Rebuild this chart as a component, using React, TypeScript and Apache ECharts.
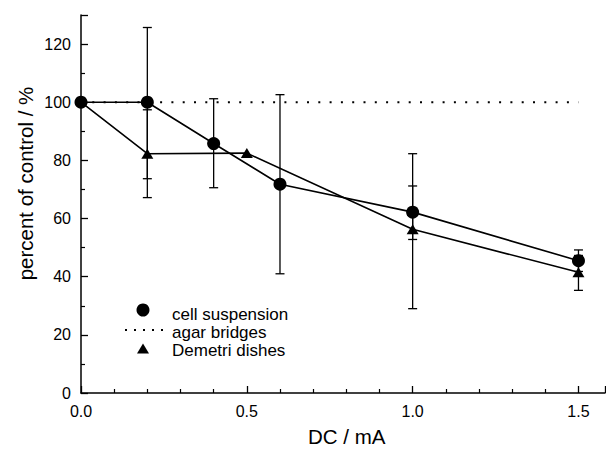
import React, { useEffect, useRef } from "react";
import * as echarts from "echarts";

// ---- data ----
const xTicksMajor = [0, 0.5, 1.0, 1.5];

const xCell = [0, 0.2, 0.4, 0.6, 1.0, 1.5];
const yCell = [100, 100, 85.8, 71.8, 62.2, 45.5];
const cellErrLow: (number | null)[] = [null, 73.7, 70.6, 41.0, 52.8, 41.8];
const cellErrHigh: (number | null)[] = [null, 125.7, 101.2, 102.6, 71.2, 49.2];

const xDish = [0, 0.2, 0.5, 1.0, 1.5];
const yDish = [100, 82.3, 82.5, 56.3, 41.5];
const dishErrLow: (number | null)[] = [null, 67.2, null, 29.0, 35.3];
const dishErrHigh: (number | null)[] = [null, 97.4, null, 82.3, 47.3];

const xAgar = [0, 1.5];
const yAgar = [100, 100];

const legendNames = ["cell suspension", "agar bridges", "Demetri dishes"];
const xAxisName = "DC / mA";
const yAxisName = "percent of control / %";

const FONT = "'Liberation Sans', Arial, Helvetica, sans-serif";

function errData(xs: number[], lo: (number | null)[], hi: (number | null)[]) {
  const out: number[][] = [];
  xs.forEach((x, i) => {
    if (lo[i] != null && hi[i] != null) out.push([x, lo[i] as number, hi[i] as number]);
  });
  return out;
}

function renderErr(params: any, api: any) {
  const x = api.value(0);
  const lo = api.coord([x, api.value(1)]);
  const hi = api.coord([x, api.value(2)]);
  const w = 4.5;
  const style = { stroke: "#000", lineWidth: 1.3 };
  return {
    type: "group",
    children: [
      { type: "line", shape: { x1: lo[0], y1: lo[1], x2: hi[0], y2: hi[1] }, style },
      { type: "line", shape: { x1: lo[0] - w, y1: lo[1], x2: lo[0] + w, y2: lo[1] }, style },
      { type: "line", shape: { x1: hi[0] - w, y1: hi[1], x2: hi[0] + w, y2: hi[1] }, style },
    ],
  };
}

export default function App() {
  const ref = useRef<HTMLDivElement>(null);
  useEffect(() => {
    if (!ref.current) return;
    const chart = echarts.init(ref.current, undefined, { renderer: "svg" });
    const axisCommon = {
      axisLine: { show: true, lineStyle: { color: "#000", width: 1.5 } },
      axisTick: { show: true, inside: true, length: 7, lineStyle: { color: "#000", width: 1.3 } },
      minorTick: { show: true, length: 4, lineStyle: { color: "#000", width: 1.2 } },
      splitLine: { show: false },
      minorSplitLine: { show: false },
    };
    chart.setOption({
      animation: false,
      backgroundColor: "#fff",
      grid: { left: 81, right: 1, top: 15, bottom: 59, containLabel: false, outerBoundsMode: "none" },
      xAxis: {
        type: "value",
        min: 0,
        max: 1.58,
        interval: 0.5,
        ...axisCommon,
        minorTick: { ...axisCommon.minorTick, splitNumber: 5 },
        axisLabel: {
          color: "#000",
          fontSize: 16,
          fontFamily: FONT,
          margin: 10,
          formatter: (v: number) =>
            xTicksMajor.some((t) => Math.abs(t - v) < 1e-6) ? v.toFixed(1) : "",
        },
      },
      yAxis: {
        type: "value",
        min: 0,
        max: 130,
        interval: 20,
        ...axisCommon,
        minorTick: { ...axisCommon.minorTick, splitNumber: 2 },
        axisLabel: {
          color: "#000",
          fontSize: 16,
          fontFamily: FONT,
          margin: 10,
          formatter: (v: number) => (v % 20 === 0 && v <= 120 ? String(v) : ""),
        },
      },
      series: [
        {
          name: legendNames[1],
          type: "line",
          data: xAgar.map((x, i) => [x, yAgar[i]]),
          symbol: "none",
          lineStyle: { color: "#000", width: 2, type: [2, 9.3] },
          z: 1,
        },
        {
          type: "custom",
          renderItem: renderErr,
          data: errData(xCell, cellErrLow, cellErrHigh),
          z: 2,
        },
        {
          type: "custom",
          renderItem: renderErr,
          data: errData(xDish, dishErrLow, dishErrHigh),
          z: 2,
        },
        {
          name: legendNames[2],
          type: "line",
          data: xDish.map((x, i) =>
            i === 0 ? { value: [x, yDish[i]], symbol: "none" } : [x, yDish[i]]
          ),
          symbol: "triangle",
          symbolSize: [12, 10],
          itemStyle: { color: "#000" },
          lineStyle: { color: "#000", width: 1.6 },
          z: 3,
        },
        {
          name: legendNames[0],
          type: "line",
          data: xCell.map((x, i) => [x, yCell[i]]),
          symbol: "circle",
          symbolSize: 13,
          itemStyle: { color: "#000" },
          lineStyle: { color: "#000", width: 1.6 },
          z: 4,
        },
      ],
      graphic: [
        { type: "circle", shape: { cx: 143, cy: 310, r: 6.5 }, style: { fill: "#000" } },
        {
          type: "line",
          shape: { x1: 125, y1: 330, x2: 164, y2: 330 },
          style: { stroke: "#000", lineWidth: 2, lineDash: [2, 7] },
        },
        {
          type: "polygon",
          shape: { points: [[143, 343.5], [137, 353.5], [149, 353.5]] },
          style: { fill: "#000" },
        },
        {
          type: "text",
          x: 172,
          y: 314.5,
          style: { text: legendNames[0], fill: "#000", font: `17px ${FONT}`, align: "left", verticalAlign: "middle" },
        },
        {
          type: "text",
          x: 172,
          y: 332.5,
          style: { text: legendNames[1], fill: "#000", font: `17px ${FONT}`, align: "left", verticalAlign: "middle" },
        },
        {
          type: "text",
          x: 172,
          y: 350.5,
          style: { text: legendNames[2], fill: "#000", font: `17px ${FONT}`, align: "left", verticalAlign: "middle" },
        },
        {
          type: "text",
          x: 346.7,
          y: 436,
          style: { text: xAxisName, fill: "#000", font: `20.5px ${FONT}`, align: "center", verticalAlign: "middle" },
        },
        {
          type: "text",
          x: 25.5,
          y: 183.5,
          rotation: Math.PI / 2,
          style: { text: yAxisName, fill: "#000", font: `20.5px ${FONT}`, align: "center", verticalAlign: "middle" },
        },
      ],
    });
    return () => chart.dispose();
  }, []);
  return (
    <div
      ref={ref}
      style={{ position: "fixed", left: 0, top: 0, width: 606, height: 452, background: "#fff" }}
    />
  );
}
